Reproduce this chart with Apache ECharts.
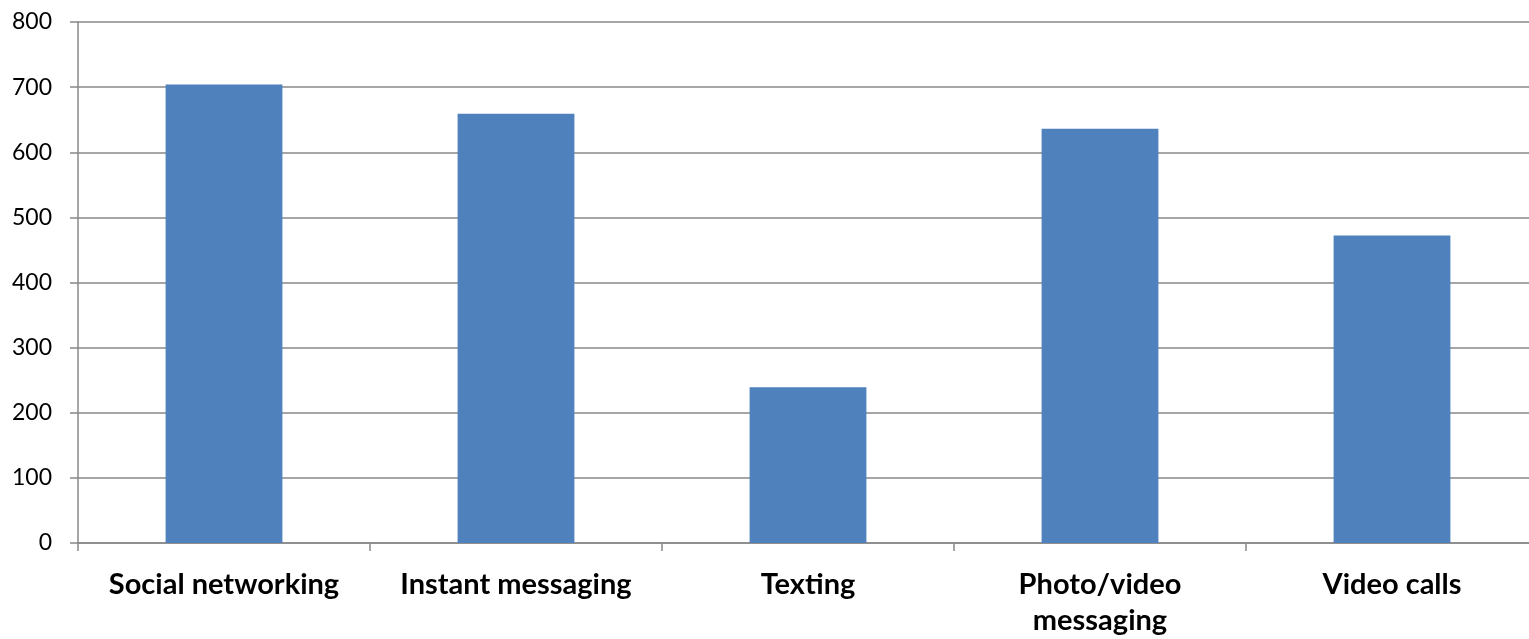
<!DOCTYPE html>
<html>
<head>
<meta charset="utf-8">
<script src="https://cdn.jsdelivr.net/npm/echarts@6/dist/echarts.min.js"></script>
<style>
html,body{margin:0;padding:0;background:#fff;overflow:hidden;}
#chart{width:1538px;height:639px;}
</style>
</head>
<body>
<div id="chart"></div>
<script>
const categories = ["Social networking", "Instant messaging", "Texting", "Photo/video\nmessaging", "Video calls"];
const values = [704, 659, 239, 636, 472];
const yTicks = [0, 100, 200, 300, 400, 500, 600, 700, 800];

const chart = echarts.init(document.getElementById('chart'));
chart.setOption({
  animation: false,
  grid: { left: 78, right: 0, top: 22, bottom: 95, containLabel: false },
  xAxis: {
    type: 'category',
    data: categories,
    axisLine: { show: true, lineStyle: { color: '#888888', width: 1.5 } },
    axisTick: { show: true, length: 8, lineStyle: { color: '#888888', width: 1.5 } },
    axisLabel: {
      interval: 0,
      margin: 24,
      color: '#000',
      fontFamily: 'Lato, "Open Sans", sans-serif',
      fontWeight: 'bold',
      fontSize: 29,
      lineHeight: 36
    }
  },
  yAxis: {
    type: 'value',
    min: yTicks[0],
    max: yTicks[yTicks.length - 1],
    interval: 100,
    axisLine: { show: true, lineStyle: { color: '#888888', width: 1.5 } },
    axisTick: { show: true, length: 8, lineStyle: { color: '#888888', width: 1.5 } },
    splitLine: { show: true, lineStyle: { color: '#888888', width: 1.5 } },
    axisLabel: {
      margin: 26,
      color: '#000',
      fontFamily: 'Lato, "Open Sans", sans-serif',
      fontSize: 23
    }
  },
  series: [{
    type: 'bar',
    data: values,
    barWidth: '40%',
    itemStyle: { color: '#4F81BD' }
  }]
});
</script>
</body>
</html>
